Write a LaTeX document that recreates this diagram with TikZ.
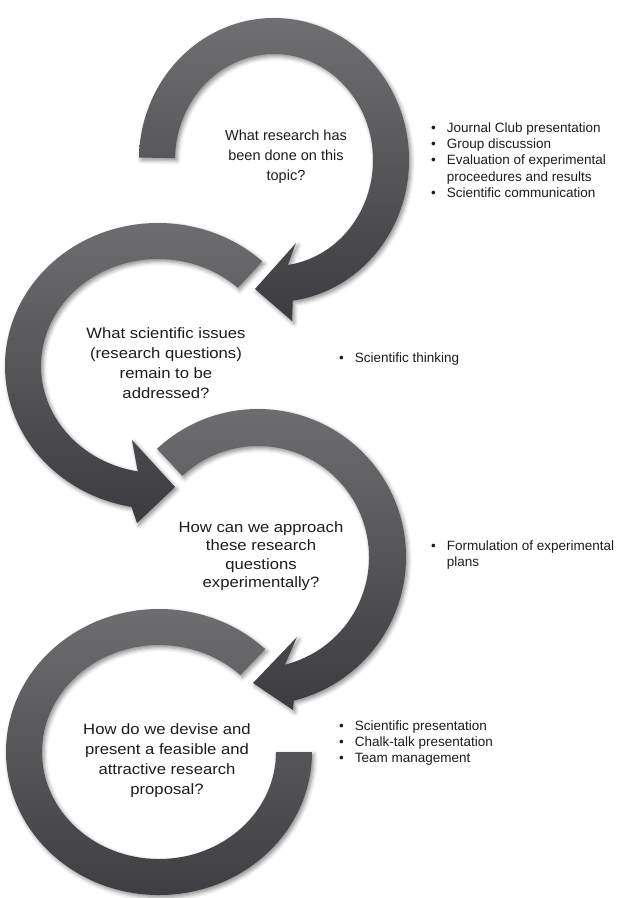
\documentclass[tikz,border=0pt]{standalone}
\usepackage{fontspec}
\setmainfont{Liberation Sans}
\usetikzlibrary{calc}
\usetikzlibrary{shadows.blur}
\definecolor{ringlight}{RGB}{112, 112, 114}
\definecolor{ringdark}{RGB}{60, 60, 64}
\definecolor{textgray}{RGB}{28, 28, 28}
\tikzset{
  ring/.style     = {top color=ringlight, bottom color=ringdark,
                     blur shadow={shadow xshift=2pt, shadow yshift=-2.5pt,
                                  shadow blur radius=4pt, shadow opacity=45}},
  question/.style = {align=center, text=textgray,
                     font=\fontsize{15}{20}\selectfont\addfontfeature{FakeStretch=1.11}},
  bullets/.style  = {anchor=north west, align=left, inner sep=0pt, text=textgray,
                     font=\fontsize{13.5}{16.2}\selectfont}
}

\begin{document}
\begin{tikzpicture}[x=1pt, y=-1pt]
  \useasboundingbox (0,0) rectangle (619,898);
  \coordinate (c1) at (274,160);
  \coordinate (c2) at (158,366);
  \coordinate (c3) at (258,557);
  \coordinate (c4) at (159,752);

  % the four cycles
  \path [ring] ($(c1)+(181:135 and 142)$)
      arc [start angle=181, end angle=442, x radius=135, y radius=142]
      -- (292,321) -- (255,289) -- (296,243)
      -- ($(c1)+(442:99 and 106)$)
      arc [start angle=442, end angle=181, x radius=99, y radius=106] -- cycle;
  \path [ring] ($(c2)+(-47:153 and 143)$)
      arc [start angle=-47, end angle=-260, x radius=153, y radius=143]
      -- (137,523) -- (175,487) -- (132,440)
      -- ($(c2)+(-260:117 and 107)$)
      arc [start angle=-260, end angle=-47, x radius=117, y radius=107] -- cycle;
  \path [ring] ($(c3)+(227:148)$)
      arc [start angle=227, end angle=436, radius=148]
      -- (293,710) -- (253,683) -- (297,637)
      -- ($(c3)+(436:111)$)
      arc [start angle=436, end angle=227, radius=111] -- cycle;
  \path [ring] ($(c4)+(-46:153 and 143)$)
      arc [start angle=-46, end angle=-360, x radius=153, y radius=143]
      -- ($(c4)+(-360:117 and 107)$)
      arc [start angle=-360, end angle=-46, x radius=117, y radius=107] -- cycle;

  % questions
  \node [question, font=\fontsize{14.5}{20}\selectfont] (q1) at (286,157)
        {What research has\\been done on this\\topic?};
  \node [question] (q2) at (166,363) {What scientific issues\\(research questions)\\remain to be\\addressed?};
  \node [question, font=\fontsize{15}{18.5}\selectfont\addfontfeature{FakeStretch=1.11}] (q3) at (261,556)
        {How can we approach\\these research\\questions\\experimentally?};
  \node [question] (q4) at (167,761) {How do we devise and\\present a feasible and\\attractive research\\proposal?};

  % skills
  \node [bullets] (b1) at (431,121) {\begin{tabular}{@{}l@{\hspace{11pt}}l@{}}
    \textbullet & Journal Club presentation\\
    \textbullet & Group discussion\\
    \textbullet & Evaluation of experimental\\
                & proceedures and results\\
    \textbullet & Scientific communication
  \end{tabular}};
  \node [bullets] (b2) at (339,351) {\begin{tabular}{@{}l@{\hspace{11pt}}l@{}}
    \textbullet & Scientific thinking
  \end{tabular}};
  \node [bullets] (b3) at (431,539) {\begin{tabular}{@{}l@{\hspace{11pt}}l@{}}
    \textbullet & Formulation of experimental\\
                & plans
  \end{tabular}};
  \node [bullets] (b4) at (339,719) {\begin{tabular}{@{}l@{\hspace{11pt}}l@{}}
    \textbullet & Scientific presentation\\
    \textbullet & Chalk-talk presentation\\
    \textbullet & Team management
  \end{tabular}};
\end{tikzpicture}
\end{document}
